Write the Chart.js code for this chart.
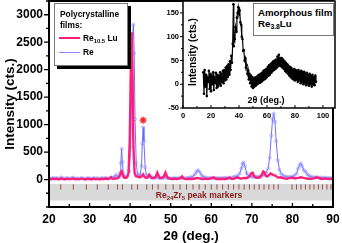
<!DOCTYPE html>
<html><head><meta charset="utf-8">
<script src="https://cdn.jsdelivr.net/npm/chart.js@4.4.1/dist/chart.umd.min.js"></script>
<style>
body{margin:0;background:#fff;}
#wrap{position:relative;width:342px;height:243px;font-family:'Liberation Sans',Arial,sans-serif;font-weight:bold;color:#000;overflow:hidden;}
#main{position:absolute;left:0;top:0;}
#inset{position:absolute;left:140px;top:0;}
.abs{position:absolute;white-space:nowrap;}
sub{font-size:70%;vertical-align:baseline;position:relative;top:0.35em;line-height:0;}
</style></head>
<body>
<div id="wrap">
<canvas id="main" width="342" height="243"></canvas>
<canvas id="inset" width="202" height="125"></canvas>

<div class="abs" style="left:54px;top:3px;width:72px;height:61px;border:1px solid #777;background:#fff;box-shadow:3px 3px 0 #000;font-size:8.4px;">
  <div class="abs" style="left:5px;top:5px;line-height:11px;">Polycrystalline<br>films:</div>
  <div class="abs" style="left:4px;top:33px;width:21px;height:2px;background:#ff1f7a;"></div>
  <div class="abs" style="left:28px;top:29px;">Re<sub>10.5</sub> Lu</div>
  <div class="abs" style="left:4px;top:48px;width:21px;height:1px;background:#8c8cff;"></div>
  <div class="abs" style="left:28px;top:43px;">Re</div>
</div>

<div class="abs" style="left:253px;top:3px;width:79px;height:31px;border:1px solid #777;background:#fff;font-size:9.7px;">
  <div class="abs" style="left:4px;top:3px;line-height:11px;">Amorphous film<br>Re<sub>3.8</sub>Lu</div>
</div>

<div class="abs" style="left:266px;top:100px;transform:translate(-50%,-50%);font-size:9px;">2θ (deg.)</div>
<div class="abs" style="left:191.5px;top:52px;transform:translate(-50%,-50%) rotate(-90deg);font-size:10px;">Intensity (cts.)</div>
<div class="abs" style="left:199px;top:195px;transform:translate(-50%,-50%);font-size:8.5px;color:#8b1a1a;">Re<sub>24</sub>Zr<sub>5</sub> peak markers</div>
</div>

<script>
const FONT = "'Liberation Sans', Arial, sans-serif";

// ---- main panel tick labels ----
const xTicks = [20, 30, 40, 50, 60, 70, 80, 90];
const yTicks = [0, 500, 1000, 1500, 2000, 2500, 3000];
// ---- inset tick labels ----
const insetXTicks = [0, 20, 40, 60, 80, 100];
const insetYTicks = [-50, 0, 50, 100, 150];

// Re film pattern [2theta, counts]
const rePattern = [
[20,30],[20.5,15],[21,35],[21.5,20],[22,28],[22.5,12],[23,40],[23.5,22],[24,18],[24.5,30],[25,15],[25.5,26],
[26,35],[26.5,18],[27,24],[27.5,14],[28,30],[28.5,20],[29,12],[29.5,28],[30,22],[30.5,16],[31,30],[31.5,20],
[32,25],[32.5,14],[33,28],[33.5,20],[34,32],[34.5,18],[35,26],[35.5,30],
[36,40],[36.3,60],[36.6,85],[36.9,50],[37.2,45],[37.5,120],[37.7,300],[37.9,560],[38.1,320],[38.3,110],[38.6,55],
[39,45],[39.4,60],[39.8,150],[40.1,600],[40.4,1800],[40.6,2600],[40.8,2820],[41.0,2300],[41.2,1100],[41.5,300],
[41.8,110],[42.1,70],[42.5,90],[42.8,250],[43.0,650],[43.2,950],[43.4,700],[43.7,220],[44.0,80],[44.4,50],
[44.8,45],[45.2,35],[45.6,40],[46,30],[46.5,38],[47,28],[47.5,35],[48,25],[48.5,40],[49,30],[49.5,22],[50,28],
[50.5,20],[51,32],[51.5,22],[52,30],[52.5,25],[53,35],[53.5,22],[54,30],[54.5,35],[55,42],[55.5,60],[56,100],
[56.4,150],[56.8,168],[57.2,130],[57.6,80],[58,50],[58.5,38],[59,30],[59.5,26],[60,32],[60.5,24],[61,30],
[61.5,22],[62,28],[62.5,25],[63,32],[63.5,28],[64,35],[64.5,30],[65,38],[65.5,45],[66,55],[66.5,70],[67,110],
[67.4,200],[67.7,290],[68,310],[68.3,240],[68.7,120],[69,80],[69.5,55],[70,50],[70.5,45],[71,48],[71.5,52],
[72,60],[72.5,70],[73,85],[73.5,120],[74,200],[74.4,400],[74.8,800],[75.1,1100],[75.4,1200],[75.7,1050],
[76,700],[76.4,350],[76.8,180],[77.2,110],[77.6,75],[78,60],[78.5,50],[79,45],[79.5,48],[80,55],[80.5,70],
[81,110],[81.4,200],[81.8,270],[82.1,290],[82.4,240],[82.8,170],[83.2,150],[83.6,100],[84,70],[84.5,55],
[85,45],[85.5,40],[86,45],[86.5,35],[87,38],[87.5,30],[88,35],[88.5,28],[89,32],[89.5,25],[90,30]
];

// Re10.5Lu film pattern [2theta, counts]
const reLuPattern = [
[20,12],[20.5,5],[21,15],[21.5,8],[22,14],[22.5,4],[23,18],[23.5,9],[24,6],[24.5,16],[25,8],[25.5,12],
[26,18],[26.5,5],[27,12],[27.5,7],[28,16],[28.5,9],[29,4],[29.5,14],[30,10],[30.5,6],[31,15],[31.5,8],
[32,12],[32.5,5],[33,14],[33.5,9],[34,18],[34.5,8],[35,20],[35.3,45],[35.6,20],[36,15],[36.5,18],[37,25],
[37.4,60],[37.7,130],[37.9,150],[38.1,100],[38.4,40],[38.8,30],[39.2,40],[39.6,120],[39.9,700],[40.2,2200],
[40.4,2680],[40.6,1900],[40.8,600],[41.1,120],[41.4,60],[41.8,55],[42.2,40],[42.6,45],[42.9,70],[43.2,95],
[43.5,50],[43.9,30],[44.3,40],[44.7,90],[45.0,60],[45.4,25],[45.9,25],[46.3,50],[46.7,125],[47.0,70],
[47.4,25],[47.9,30],[48.3,55],[48.7,125],[49.0,70],[49.4,25],[50,15],[50.5,10],[51,16],[51.5,8],[52,15],
[52.5,30],[52.8,55],[53.1,25],[53.5,12],[54,8],[54.5,15],[55,10],[55.5,14],[56,18],[56.5,30],[57,22],
[57.5,14],[58,10],[58.5,16],[59,8],[59.5,14],[60,20],[60.5,40],[61,18],[61.5,10],[62,14],[62.5,8],[63,15],
[63.5,10],[64,18],[64.5,35],[65,15],[65.5,12],[66,25],[66.5,40],[67,22],[67.5,18],[68,30],[68.5,25],[69,35],
[69.5,70],[69.9,120],[70.2,125],[70.5,70],[71,35],[71.5,30],[72,40],[72.4,80],[72.8,145],[73.1,130],
[73.4,70],[73.8,55],[74.2,80],[74.6,110],[75,95],[75.4,80],[75.8,70],[76.2,45],[76.6,35],[77,40],[77.5,30],
[78,20],[78.5,15],[79,22],[79.5,30],[80,35],[80.5,20],[81,25],[81.5,30],[82,40],[82.5,35],[83,25],[83.5,18],
[84,15],[84.5,12],[85,18],[85.5,25],[86,40],[86.4,30],[87,15],[87.5,10],[88,20],[88.5,12],[89,8],[89.5,14],[90,10]
];

// Re24Zr5 reference peak positions (2theta)
const markerPositions = [22.9, 26.0, 29.2, 31.9, 34.6, 36.9, 38.1, 40.4, 41.8, 44.1, 45.5, 46.9, 48.8,
  50.6, 52.3, 53.9, 55.5, 57.0, 58.5, 60.0, 61.4, 62.8, 64.2, 65.5, 66.8, 68.1, 69.4, 70.6, 71.8, 73.0,
  74.2, 75.4, 76.5, 79.9, 81.0, 82.1, 83.2, 84.3, 85.3, 86.4, 87.4, 88.5, 89.5];

// impurity peak flagged with an asterisk
const impurityPeaks = [43.2];

// Amorphous Re3.8Lu film pattern [2theta, counts]
const amorphousPattern = [
[14.5,25],[15,-20],[15.5,30],[16,-5],[16.5,20],[17,-25],[17.5,15],[18,5],[18.5,28],[19,-10],[19.5,22],[20,-15],
[20.5,18],[21,0],[21.5,25],[22,-12],[22.5,15],[23,2],[23.5,24],[24,-8],[24.5,20],[25,-5],[25.5,18],[26,0],
[26.5,25],[27,-3],[27.5,22],[28,5],[28.5,28],[29,2],[29.5,30],[30,8],[30.5,35],[31,10],[31.5,38],[32,15],
[32.5,42],[33,20],[33.5,48],[34,30],[34.5,60],[35,45],[35.5,85],[36,168],[36.3,80],[36.6,100],[37,95],
[37.5,120],[38,110],[38.5,140],[39,150],[39.5,162],[40,148],[40.5,155],[41,130],[41.5,125],[42,100],
[42.5,95],[43,70],[43.5,72],[44,50],[44.5,55],[45,35],[45.5,40],[46,22],[46.5,30],[47,10],[47.5,22],[48,2],
[48.5,18],[49,-5],[49.5,15],[50,-8],[50.5,12],[51,-5],[51.5,14],[52,-3],[52.5,15],[53,0],[53.5,18],[54,2],
[54.5,20],[55,3],[55.5,22],[56,5],[56.5,24],[57,8],[57.5,28],[58,10],[58.5,30],[59,12],[59.5,32],[60,15],
[60.5,36],[61,18],[61.5,40],[62,20],[62.5,42],[63,24],[63.5,45],[64,28],[64.5,48],[65,30],[65.5,50],[66,32],
[66.5,52],[67,35],[67.5,58],[68,38],[68.5,62],[69,40],[69.5,55],[70,38],[70.5,55],[71,35],[71.5,52],[72,32],
[72.5,48],[73,28],[73.5,45],[74,25],[74.5,42],[75,22],[75.5,38],[76,18],[76.5,36],[77,15],[77.5,34],[78,12],
[78.5,30],[79,10],[79.5,32],[80,8],[80.5,30],[81,10],[81.5,28],[82,5],[82.5,30],[83,8],[83.5,26],[84,2],
[84.5,28],[85,5],[85.5,25],[86,0],[86.5,26],[87,3],[87.5,22],[88,-2],[88.5,24],[89,2],[89.5,20],[90,-3],
[90.5,22],[91,0],[91.5,18],[92,-5],[92.5,20],[93,0],[93.5,15],[94,-2],[94.5,18],[95,5]
];

const toXY = pts => pts.map(([x, y]) => ({x, y}));

// frame + tick marks drawn from the scales
const frameTicks = {
  id: 'frameTicks',
  beforeDatasetsDraw(chart, args, o) {
    if (!o || !o.fill) return;
    const a = chart.chartArea, ctx = chart.ctx;
    ctx.save(); ctx.fillStyle = o.fill;
    ctx.fillRect(a.left, a.top, a.right - a.left, a.bottom - a.top);
    ctx.restore();
  },
  afterDraw(chart, args, o) {
    if (!o || !o.xMajor) return;
    const {ctx, chartArea: a, scales: {x, y}} = chart;
    ctx.save();
    ctx.strokeStyle = '#000';
    ctx.lineWidth = o.tickWidth;
    ctx.beginPath();
    for (let v = x.min; v <= x.max + 1e-9; v += o.xMinor) {
      const major = o.xMajor.includes(Math.round(v * 100) / 100);
      const p = x.getPixelForValue(v);
      ctx.moveTo(p, a.bottom); ctx.lineTo(p, a.bottom - (major ? o.xLen : o.xMinLen));
    }
    const y0 = Math.ceil(y.min / o.yMinor) * o.yMinor;
    for (let v = y0; v <= y.max + 1e-9; v += o.yMinor) {
      const major = o.yMajor.includes(v);
      const p = y.getPixelForValue(v);
      ctx.moveTo(a.left, p); ctx.lineTo(a.left - (major ? o.yLen : o.yMinLen), p);
    }
    ctx.stroke();
    ctx.lineWidth = o.frameWidth;
    ctx.strokeRect(a.left, a.top, a.right - a.left, a.bottom - a.top);
    ctx.restore();
  }
};

const tickFont = s => ({size: s, weight: 'bold', family: FONT});
const numLabel = v => String(v);
const noGrid = {display: false, drawTicks: false, tickLength: 0};

new Chart(document.getElementById('main'), {
  type: 'scatter',
  plugins: [frameTicks],
  data: {datasets: [
    {label: 'Re10.5 Lu', data: toXY(reLuPattern), showLine: true, borderColor: '#ff1f7a', borderWidth: 2.4,
     pointRadius: 0, order: 1},
    {label: 'Re', data: toXY(rePattern), showLine: true, borderColor: 'rgba(95,95,255,0.9)', borderWidth: 1,
     pointRadius: 1.6, pointBackgroundColor: 'rgba(150,150,255,0.35)', pointBorderColor: 'rgba(120,120,255,0.55)',
     pointBorderWidth: 0.6, order: 2},
    {label: 'impurity', data: impurityPeaks.map(x => ({x, y: 1080})), pointStyle: 'star', pointRadius: 3.5,
     pointBorderColor: '#ff2020', pointBorderWidth: 1.3, order: 0},
    {label: 'markers', data: markerPositions.map(x => ({x, y: -135})), pointStyle: 'line', rotation: 90,
     pointRadius: 2.6, pointBorderColor: '#a04a4a', pointBorderWidth: 1, order: 3},
    {label: 'band', data: [{x: 20, y: -80}, {x: 90, y: -80}], showLine: true, borderWidth: 0, pointRadius: 0,
     fill: {value: -380}, backgroundColor: '#d9d9d9', order: 4}
  ]},
  options: {
    responsive: false, animation: false, devicePixelRatio: 1,
    layout: {autoPadding: false, padding: {top: 1, right: 9, left: 0, bottom: 0}},
    plugins: {
      legend: {display: false}, tooltip: {enabled: false},
      frameTicks: {tickWidth: 1.3, frameWidth: 2, xMinor: 5, xMajor: xTicks, xLen: 4, xMinLen: 3,
                   yMinor: 250, yMajor: yTicks, yLen: 5, yMinLen: 3}
    },
    scales: {
      x: {type: 'linear', min: 20, max: 90,
          afterFit(s) { s.height = 36; s.paddingLeft = 0; s.paddingRight = 0; },
          afterBuildTicks(s) { s.ticks = xTicks.map(v => ({value: v})); },
          grid: noGrid, border: {display: false},
          ticks: {padding: 5, font: tickFont(12), color: '#000', maxRotation: 0, autoSkip: false, callback: numLabel},
          title: {display: true, text: '2θ (deg.)', color: '#000',
                  font: {size: 13.5, weight: 'bold', family: FONT, lineHeight: 1}, padding: {top: 0, bottom: 0}}},
      y: {type: 'linear', min: -500, max: 3250,
          afterFit(s) { s.width = 49; s.paddingTop = 0; s.paddingBottom = 0; },
          afterBuildTicks(s) { s.ticks = yTicks.map(v => ({value: v})); },
          grid: noGrid, border: {display: false},
          ticks: {padding: 6, font: tickFont(12), color: '#000', autoSkip: false, callback: numLabel},
          title: {display: true, text: 'Intensity (cts.)', color: '#000',
                  font: {size: 13.5, weight: 'bold', family: FONT}, padding: {top: 2, bottom: 0}}}
    }
  }
});

new Chart(document.getElementById('inset'), {
  type: 'scatter',
  plugins: [frameTicks],
  data: {datasets: [
    {label: 'Re3.8Lu', data: toXY(amorphousPattern), showLine: true, borderColor: '#000', borderWidth: 1.2,
     pointRadius: 1.3, pointBackgroundColor: '#000', pointBorderColor: '#000', pointBorderWidth: 0}
  ]},
  options: {
    responsive: false, animation: false, devicePixelRatio: 1,
    layout: {autoPadding: false, padding: {top: 1, right: 7, left: 0, bottom: 0}},
    plugins: {
      legend: {display: false}, tooltip: {enabled: false},
      frameTicks: {fill: '#fff', tickWidth: 1, frameWidth: 1.5, xMinor: 10, xMajor: insetXTicks, xLen: 3, xMinLen: 2,
                   yMinor: 25, yMajor: insetYTicks, yLen: 3, yMinLen: 2}
    },
    scales: {
      x: {type: 'linear', min: 0, max: 108.6,
          afterFit(s) { s.height = 17; s.paddingLeft = 0; s.paddingRight = 0; },
          afterBuildTicks(s) { s.ticks = insetXTicks.map(v => ({value: v})); },
          grid: noGrid, border: {display: false},
          ticks: {padding: 3, font: tickFont(7.5), color: '#000', maxRotation: 0, autoSkip: false, callback: numLabel}},
      y: {type: 'linear', min: -50, max: 175,
          afterFit(s) { s.width = 43; s.paddingTop = 0; s.paddingBottom = 0; },
          afterBuildTicks(s) { s.ticks = insetYTicks.map(v => ({value: v})); },
          grid: noGrid, border: {display: false},
          ticks: {padding: 4, font: tickFont(7.5), color: '#000', autoSkip: false, callback: numLabel}}
    }
  }
});
</script>
</body></html>
